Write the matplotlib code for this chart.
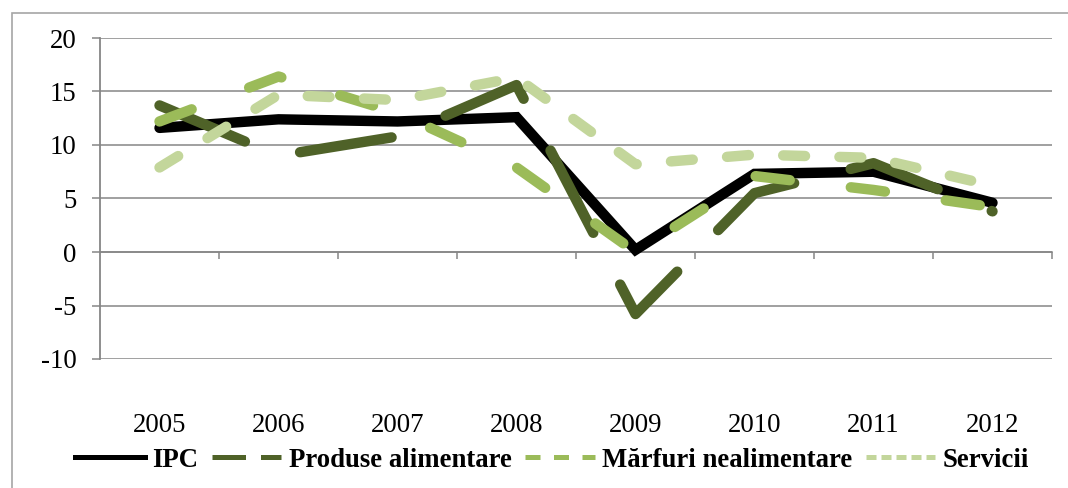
import matplotlib
matplotlib.use('Agg')
import matplotlib.pyplot as plt
from matplotlib.lines import Line2D
from matplotlib.patches import Rectangle

# ─────────────────────────────────────────────
# DONNÉES
# ─────────────────────────────────────────────
annees = ['2005', '2006', '2007', '2008', '2009', '2010', '2011', '2012']
ipc = [11.6, 12.4, 12.2, 12.6, 0.2, 7.3, 7.5, 4.6]
produse_alimentare = [13.7, 9.0, 10.8, 15.6, -5.8, 5.5, 8.3, 3.8]
marfuri_nealimentare = [12.2, 16.4, 13.0, 7.9, 0.0, 7.1, 5.8, 4.2]
servicii = [7.9, 14.7, 14.2, 16.3, 8.2, 9.1, 8.8, 6.2]

noms = ['IPC', 'Produse alimentare', 'Mărfuri nealimentare', 'Servicii']

plt.rcParams['font.family'] = ['Liberation Serif', 'DejaVu Serif']
plt.rcParams['axes.unicode_minus'] = False

C_NOIR = '#000000'
C_FONCE = '#4F6228'
C_MOYEN = '#9BBB59'
C_CLAIR = '#C3D69B'
C_GRILLE = '#868686'
TAILLE = 19.3

fig = plt.figure(figsize=(10.68, 4.88), dpi=100)
ax = fig.add_axes([100 / 1068, 1 - 359 / 488, 952 / 1068, 321 / 488])

# cadre extérieur (coupé à droite et en bas)
fig.patches.append(Rectangle((12 / 1068, -0.1), 1.2, 1 - 13 / 488 + 0.1,
                             transform=fig.transFigure, fill=False,
                             edgecolor='#A6A6A6', lw=1.2))

x = list(range(len(annees)))
lw = 7.5
ax.plot(x, ipc, color=C_NOIR, lw=lw, solid_joinstyle='miter',
        solid_capstyle='round', zorder=3)
ax.plot(x, produse_alimentare, color=C_FONCE, lw=lw, dashes=(8.9, 5.6),
        dash_capstyle='round', dash_joinstyle='round', zorder=4)
ax.plot(x, marfuri_nealimentare, color=C_MOYEN, lw=lw, dashes=(3.3, 5.9),
        dash_capstyle='round', dash_joinstyle='round', zorder=5)
ax.plot(x, servicii, color=C_CLAIR, lw=lw, dashes=(2.1, 3.3),
        dash_capstyle='round', dash_joinstyle='round', zorder=6)

ax.set_xlim(-0.5, 7.5)
ax.set_ylim(-10, 20)
ax.set_yticks(range(-10, 21, 5))
ax.yaxis.grid(True, color=C_GRILLE, lw=1.1)
ax.set_axisbelow(True)

for s in ['top', 'right', 'bottom']:
    ax.spines[s].set_visible(False)
ax.spines['left'].set_color(C_GRILLE)
ax.spines['left'].set_linewidth(1.3)

ax.tick_params(axis='y', length=6, width=1.1, color=C_GRILLE, pad=11,
               labelsize=TAILLE)
ax.set_xticks(x)
ax.set_xticklabels(annees)
ax.tick_params(axis='x', length=0, pad=39, labelsize=TAILLE)

# axe des catégories qui croise à 0 (graduations entre les années)
sec = ax.secondary_xaxis(1 / 3)
sec.set_xticks([i + 0.5 for i in range(len(annees))])
sec.set_xticklabels([])
sec.tick_params(length=5, width=1.1, color=C_GRILLE, direction='out')
sec.spines['bottom'].set_color(C_GRILLE)
sec.spines['bottom'].set_linewidth(1.1)

# légende
h = [
    Line2D([], [], color=C_NOIR, lw=3.6),
    Line2D([], [], color=C_FONCE, lw=3.6, dashes=(6.7, 3)),
    Line2D([], [], color=C_MOYEN, lw=3.6, dashes=(3, 2.7)),
    Line2D([], [], color=C_CLAIR, lw=3.6, dashes=(2, 1)),
]
fig.legend(h, noms, loc='center', bbox_to_anchor=(0.517, 0.057), ncol=4,
           frameon=False, borderpad=0, handlelength=2.6, handletextpad=0.27,
           columnspacing=0.5, prop={'size': TAILLE, 'weight': 'bold'})

plt.savefig('out.png', dpi=100)
